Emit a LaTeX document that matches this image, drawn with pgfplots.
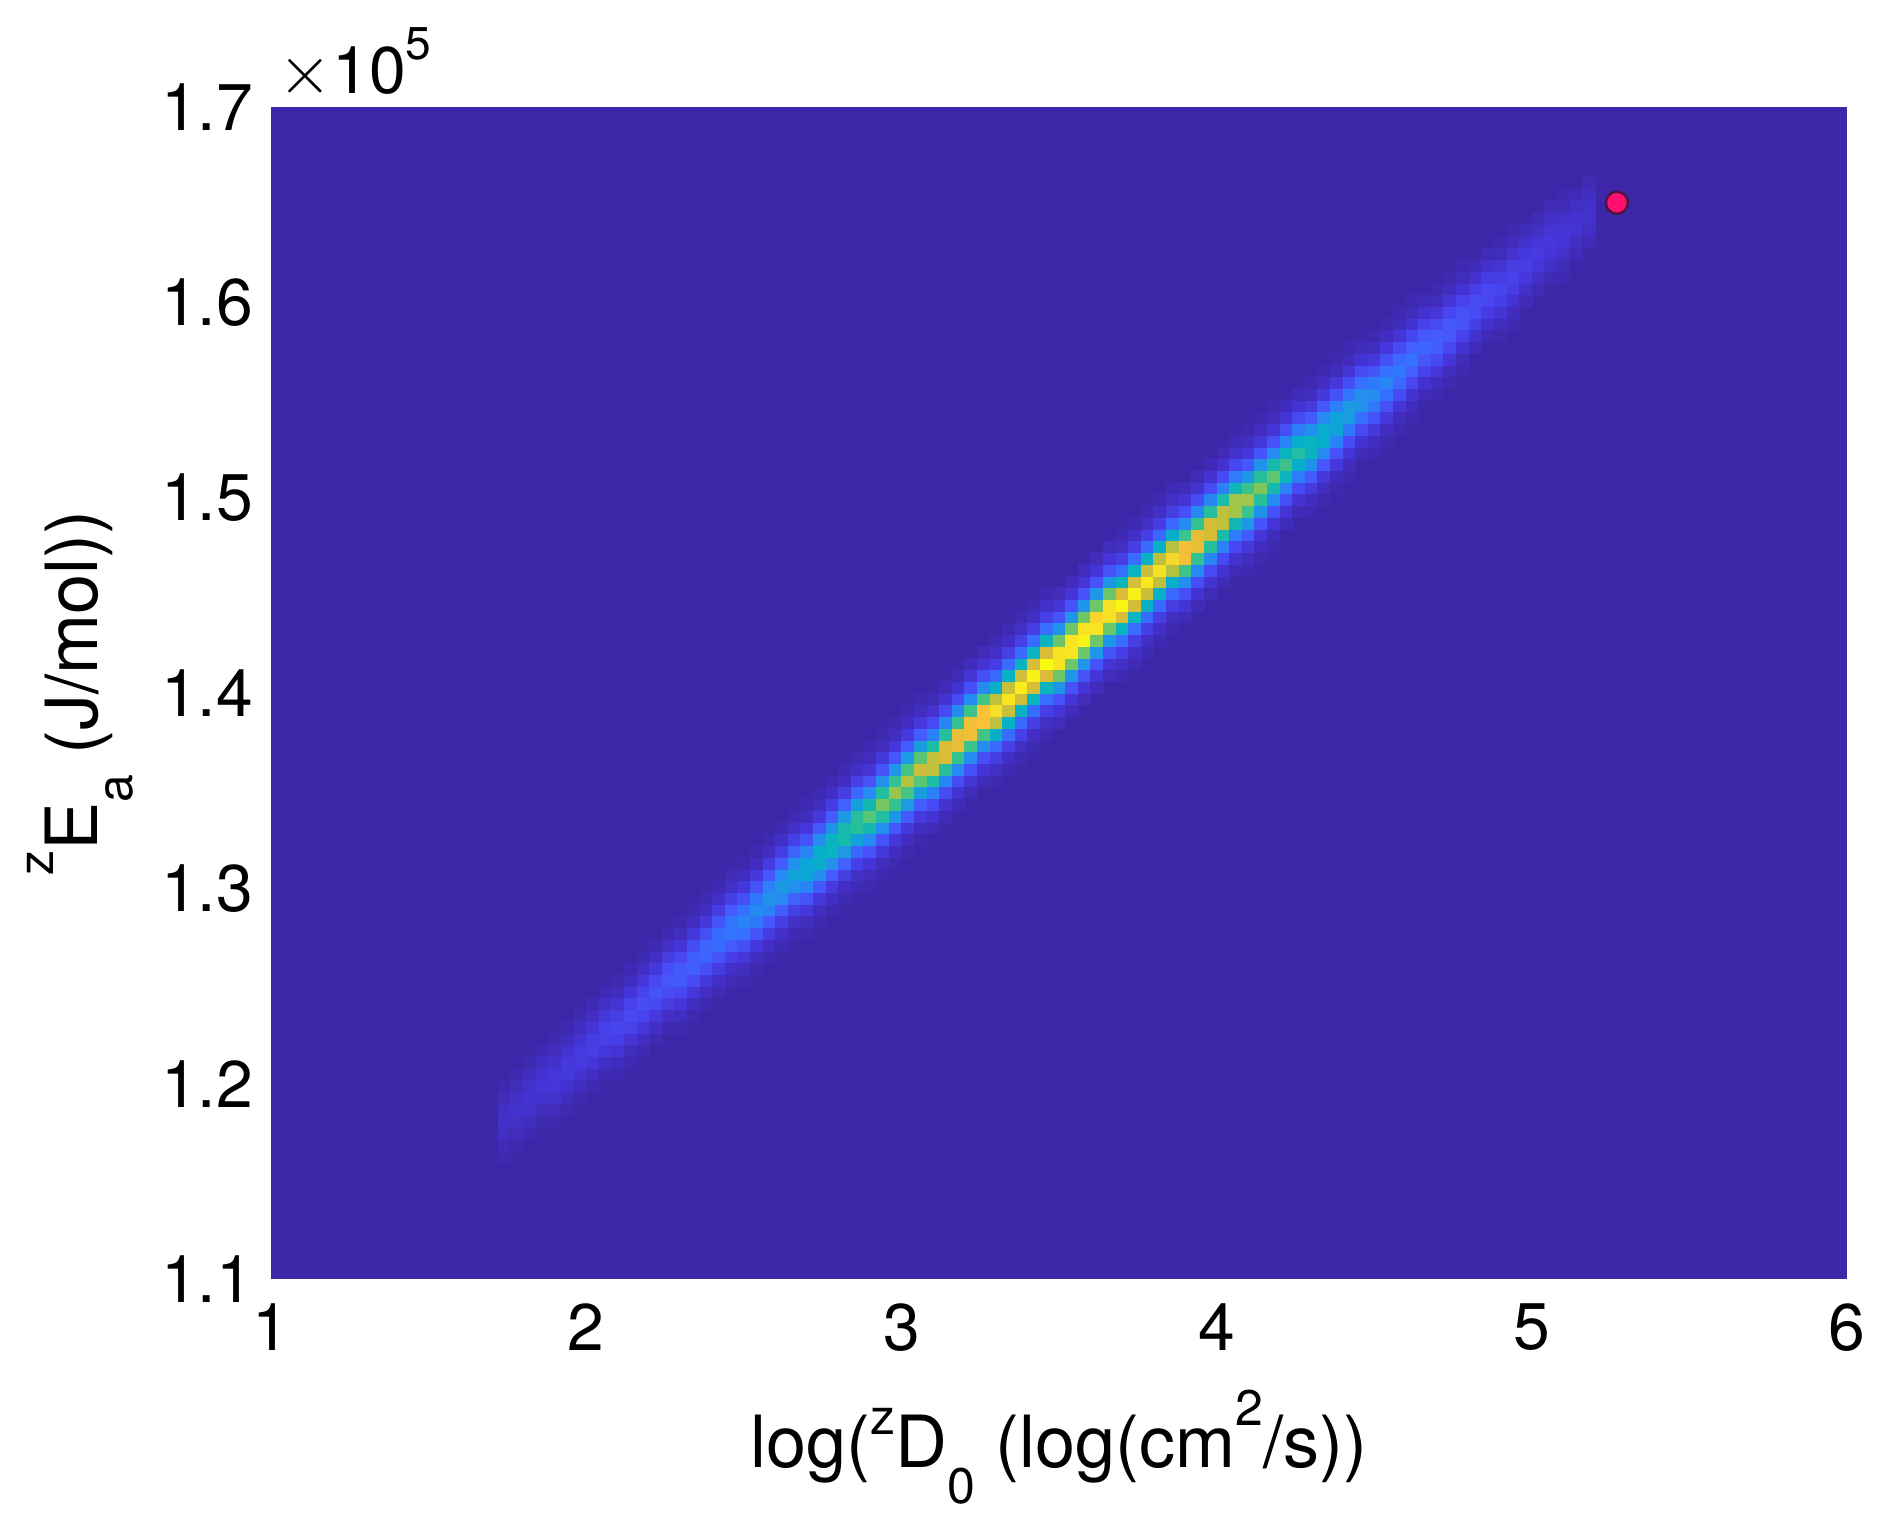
\documentclass[border=0pt]{standalone}
\usepackage{pgfplots}
\pgfplotsset{compat=1.18}
\usepackage{pgfplotstable}
\usepackage{fontspec}
\setmainfont{TeX Gyre Heros}
\definecolor{bgpar}{rgb}{0.2422,0.1504,0.6603}
\definecolor{dotfill}{RGB}{255,16,112}
\definecolor{dotedge}{RGB}{80,20,60}
\pgfplotstableread{
x y v
1.74 1.163 0.011
1.74 1.169 0.023
1.74 1.175 0.037
1.74 1.181 0.045
1.74 1.187 0.037
1.74 1.193 0.023
1.74 1.199 0.011
1.78 1.169 0.012
1.78 1.175 0.025
1.78 1.181 0.041
1.78 1.187 0.050
1.78 1.193 0.041
1.78 1.199 0.025
1.78 1.205 0.012
1.82 1.175 0.014
1.82 1.181 0.029
1.82 1.187 0.047
1.82 1.193 0.057
1.82 1.199 0.047
1.82 1.205 0.029
1.82 1.211 0.014
1.86 1.181 0.015
1.86 1.187 0.032
1.86 1.193 0.052
1.86 1.199 0.064
1.86 1.205 0.052
1.86 1.211 0.032
1.86 1.217 0.015
1.90 1.181 0.011
1.90 1.187 0.026
1.90 1.193 0.048
1.90 1.199 0.067
1.90 1.205 0.067
1.90 1.211 0.048
1.90 1.217 0.026
1.90 1.223 0.011
1.94 1.187 0.012
1.94 1.193 0.028
1.94 1.199 0.052
1.94 1.205 0.074
1.94 1.211 0.074
1.94 1.217 0.052
1.94 1.223 0.028
1.94 1.229 0.012
1.98 1.193 0.014
1.98 1.199 0.031
1.98 1.205 0.057
1.98 1.211 0.081
1.98 1.217 0.081
1.98 1.223 0.057
1.98 1.229 0.031
1.98 1.235 0.014
2.02 1.199 0.015
2.02 1.205 0.035
2.02 1.211 0.064
2.02 1.217 0.091
2.02 1.223 0.091
2.02 1.229 0.064
2.02 1.235 0.035
2.02 1.241 0.015
2.06 1.205 0.017
2.06 1.211 0.039
2.06 1.217 0.072
2.06 1.223 0.102
2.06 1.229 0.102
2.06 1.235 0.072
2.06 1.241 0.039
2.06 1.247 0.017
2.10 1.205 0.012
2.10 1.211 0.028
2.10 1.217 0.059
2.10 1.223 0.097
2.10 1.229 0.118
2.10 1.235 0.097
2.10 1.241 0.059
2.10 1.247 0.028
2.10 1.253 0.012
2.14 1.211 0.013
2.14 1.217 0.031
2.14 1.223 0.065
2.14 1.229 0.106
2.14 1.235 0.129
2.14 1.241 0.106
2.14 1.247 0.065
2.14 1.253 0.031
2.14 1.259 0.013
2.18 1.217 0.014
2.18 1.223 0.034
2.18 1.229 0.070
2.18 1.235 0.115
2.18 1.241 0.140
2.18 1.247 0.115
2.18 1.253 0.070
2.18 1.259 0.034
2.18 1.265 0.014
2.22 1.223 0.016
2.22 1.229 0.037
2.22 1.235 0.078
2.22 1.241 0.127
2.22 1.247 0.155
2.22 1.253 0.127
2.22 1.259 0.078
2.22 1.265 0.037
2.22 1.271 0.016
2.26 1.229 0.017
2.26 1.235 0.041
2.26 1.241 0.086
2.26 1.247 0.140
2.26 1.253 0.171
2.26 1.259 0.140
2.26 1.265 0.086
2.26 1.271 0.041
2.26 1.277 0.017
2.30 1.229 0.012
2.30 1.235 0.030
2.30 1.241 0.067
2.30 1.247 0.125
2.30 1.253 0.178
2.30 1.259 0.178
2.30 1.265 0.125
2.30 1.271 0.067
2.30 1.277 0.030
2.30 1.283 0.012
2.34 1.235 0.013
2.34 1.241 0.032
2.34 1.247 0.073
2.34 1.253 0.136
2.34 1.259 0.193
2.34 1.265 0.193
2.34 1.271 0.136
2.34 1.277 0.073
2.34 1.283 0.032
2.34 1.289 0.013
2.38 1.241 0.014
2.38 1.247 0.035
2.38 1.253 0.079
2.38 1.259 0.147
2.38 1.265 0.209
2.38 1.271 0.209
2.38 1.277 0.147
2.38 1.283 0.079
2.38 1.289 0.035
2.38 1.295 0.014
2.42 1.247 0.016
2.42 1.253 0.039
2.42 1.259 0.088
2.42 1.265 0.164
2.42 1.271 0.233
2.42 1.277 0.233
2.42 1.283 0.164
2.42 1.289 0.088
2.42 1.295 0.039
2.42 1.301 0.016
2.46 1.253 0.018
2.46 1.259 0.043
2.46 1.265 0.098
2.46 1.271 0.182
2.46 1.277 0.257
2.46 1.283 0.257
2.46 1.289 0.182
2.46 1.295 0.098
2.46 1.301 0.043
2.46 1.307 0.018
2.50 1.253 0.012
2.50 1.259 0.030
2.50 1.265 0.071
2.50 1.271 0.149
2.50 1.277 0.244
2.50 1.283 0.297
2.50 1.289 0.244
2.50 1.295 0.149
2.50 1.301 0.071
2.50 1.307 0.030
2.50 1.313 0.012
2.54 1.259 0.013
2.54 1.265 0.032
2.54 1.271 0.078
2.54 1.277 0.162
2.54 1.283 0.265
2.54 1.289 0.323
2.54 1.295 0.265
2.54 1.301 0.162
2.54 1.307 0.078
2.54 1.313 0.032
2.54 1.319 0.013
2.58 1.265 0.014
2.58 1.271 0.035
2.58 1.277 0.084
2.58 1.283 0.175
2.58 1.289 0.287
2.58 1.295 0.350
2.58 1.301 0.287
2.58 1.307 0.175
2.58 1.313 0.084
2.58 1.319 0.035
2.58 1.325 0.014
2.62 1.271 0.015
2.62 1.277 0.038
2.62 1.283 0.092
2.62 1.289 0.191
2.62 1.295 0.313
2.62 1.301 0.382
2.62 1.307 0.313
2.62 1.313 0.191
2.62 1.319 0.092
2.62 1.325 0.038
2.62 1.331 0.015
2.66 1.277 0.017
2.66 1.283 0.042
2.66 1.289 0.100
2.66 1.295 0.208
2.66 1.301 0.340
2.66 1.307 0.415
2.66 1.313 0.340
2.66 1.319 0.208
2.66 1.325 0.100
2.66 1.331 0.042
2.66 1.337 0.017
2.70 1.277 0.011
2.70 1.283 0.029
2.70 1.289 0.072
2.70 1.295 0.162
2.70 1.301 0.302
2.70 1.307 0.428
2.70 1.313 0.428
2.70 1.319 0.302
2.70 1.325 0.162
2.70 1.331 0.072
2.70 1.337 0.029
2.70 1.343 0.011
2.74 1.283 0.012
2.74 1.289 0.032
2.74 1.295 0.078
2.74 1.301 0.175
2.74 1.307 0.325
2.74 1.313 0.461
2.74 1.319 0.461
2.74 1.325 0.325
2.74 1.331 0.175
2.74 1.337 0.078
2.74 1.343 0.032
2.74 1.349 0.012
2.78 1.289 0.013
2.78 1.295 0.034
2.78 1.301 0.083
2.78 1.307 0.187
2.78 1.313 0.348
2.78 1.319 0.494
2.78 1.325 0.494
2.78 1.331 0.348
2.78 1.337 0.187
2.78 1.343 0.083
2.78 1.349 0.034
2.78 1.355 0.013
2.82 1.295 0.014
2.82 1.301 0.036
2.82 1.307 0.090
2.82 1.313 0.202
2.82 1.319 0.375
2.82 1.325 0.532
2.82 1.331 0.532
2.82 1.337 0.375
2.82 1.343 0.202
2.82 1.349 0.090
2.82 1.355 0.036
2.82 1.361 0.014
2.86 1.301 0.015
2.86 1.307 0.039
2.86 1.313 0.096
2.86 1.319 0.216
2.86 1.325 0.402
2.86 1.331 0.570
2.86 1.337 0.570
2.86 1.343 0.402
2.86 1.349 0.216
2.86 1.355 0.096
2.86 1.361 0.039
2.86 1.367 0.015
2.90 1.301 0.010
2.90 1.307 0.026
2.90 1.313 0.064
2.90 1.319 0.154
2.90 1.325 0.320
2.90 1.331 0.525
2.90 1.337 0.640
2.90 1.343 0.525
2.90 1.349 0.320
2.90 1.355 0.154
2.90 1.361 0.064
2.90 1.367 0.026
2.90 1.373 0.010
2.94 1.307 0.010
2.94 1.313 0.027
2.94 1.319 0.068
2.94 1.325 0.163
2.94 1.331 0.340
2.94 1.337 0.558
2.94 1.343 0.680
2.94 1.349 0.558
2.94 1.355 0.340
2.94 1.361 0.163
2.94 1.367 0.068
2.94 1.373 0.027
2.94 1.379 0.010
2.98 1.313 0.011
2.98 1.319 0.029
2.98 1.325 0.072
2.98 1.331 0.173
2.98 1.337 0.360
2.98 1.343 0.590
2.98 1.349 0.720
2.98 1.355 0.590
2.98 1.361 0.360
2.98 1.367 0.173
2.98 1.373 0.072
2.98 1.379 0.029
2.98 1.385 0.011
3.02 1.319 0.011
3.02 1.325 0.030
3.02 1.331 0.075
3.02 1.337 0.180
3.02 1.343 0.376
3.02 1.349 0.617
3.02 1.355 0.752
3.02 1.361 0.617
3.02 1.367 0.376
3.02 1.373 0.180
3.02 1.379 0.075
3.02 1.385 0.030
3.02 1.391 0.011
3.06 1.325 0.012
3.06 1.331 0.031
3.06 1.337 0.079
3.06 1.343 0.189
3.06 1.349 0.393
3.06 1.355 0.645
3.06 1.361 0.786
3.06 1.367 0.645
3.06 1.373 0.393
3.06 1.379 0.189
3.06 1.385 0.079
3.06 1.391 0.031
3.06 1.397 0.012
3.10 1.331 0.020
3.10 1.337 0.053
3.10 1.343 0.131
3.10 1.349 0.294
3.10 1.355 0.548
3.10 1.361 0.777
3.10 1.367 0.777
3.10 1.373 0.548
3.10 1.379 0.294
3.10 1.385 0.131
3.10 1.391 0.053
3.10 1.397 0.020
3.14 1.337 0.021
3.14 1.343 0.055
3.14 1.349 0.136
3.14 1.355 0.306
3.14 1.361 0.570
3.14 1.367 0.808
3.14 1.373 0.808
3.14 1.379 0.570
3.14 1.385 0.306
3.14 1.391 0.136
3.14 1.397 0.055
3.14 1.403 0.021
3.18 1.343 0.022
3.18 1.349 0.057
3.18 1.355 0.141
3.18 1.361 0.317
3.18 1.367 0.590
3.18 1.373 0.836
3.18 1.379 0.836
3.18 1.385 0.590
3.18 1.391 0.317
3.18 1.397 0.141
3.18 1.403 0.057
3.18 1.409 0.022
3.22 1.349 0.023
3.22 1.355 0.059
3.22 1.361 0.144
3.22 1.367 0.324
3.22 1.373 0.603
3.22 1.379 0.855
3.22 1.385 0.855
3.22 1.391 0.603
3.22 1.397 0.324
3.22 1.403 0.144
3.22 1.409 0.059
3.22 1.415 0.023
3.26 1.355 0.023
3.26 1.361 0.060
3.26 1.367 0.147
3.26 1.373 0.330
3.26 1.379 0.615
3.26 1.385 0.872
3.26 1.391 0.872
3.26 1.397 0.615
3.26 1.403 0.330
3.26 1.409 0.147
3.26 1.415 0.060
3.26 1.421 0.023
3.30 1.355 0.014
3.30 1.361 0.038
3.30 1.367 0.094
3.30 1.373 0.225
3.30 1.379 0.469
3.30 1.385 0.769
3.30 1.391 0.938
3.30 1.397 0.769
3.30 1.403 0.469
3.30 1.409 0.225
3.30 1.415 0.094
3.30 1.421 0.038
3.30 1.427 0.014
3.34 1.361 0.014
3.34 1.367 0.038
3.34 1.373 0.096
3.34 1.379 0.229
3.34 1.385 0.478
3.34 1.391 0.783
3.34 1.397 0.955
3.34 1.403 0.783
3.34 1.409 0.478
3.34 1.415 0.229
3.34 1.421 0.096
3.34 1.427 0.038
3.34 1.433 0.014
3.38 1.367 0.015
3.38 1.373 0.039
3.38 1.379 0.097
3.38 1.385 0.233
3.38 1.391 0.485
3.38 1.397 0.795
3.38 1.403 0.970
3.38 1.409 0.795
3.38 1.415 0.485
3.38 1.421 0.233
3.38 1.427 0.097
3.38 1.433 0.039
3.38 1.439 0.015
3.42 1.373 0.015
3.42 1.379 0.039
3.42 1.385 0.098
3.42 1.391 0.235
3.42 1.397 0.490
3.42 1.403 0.804
3.42 1.409 0.980
3.42 1.415 0.804
3.42 1.421 0.490
3.42 1.427 0.235
3.42 1.433 0.098
3.42 1.439 0.039
3.42 1.445 0.015
3.46 1.379 0.015
3.46 1.385 0.040
3.46 1.391 0.099
3.46 1.397 0.237
3.46 1.403 0.494
3.46 1.409 0.810
3.46 1.415 1.000
3.46 1.421 0.810
3.46 1.427 0.494
3.46 1.433 0.237
3.46 1.439 0.099
3.46 1.445 0.040
3.46 1.451 0.015
3.50 1.385 0.025
3.50 1.391 0.065
3.50 1.397 0.159
3.50 1.403 0.358
3.50 1.409 0.667
3.50 1.415 0.945
3.50 1.421 0.945
3.50 1.427 0.667
3.50 1.433 0.358
3.50 1.439 0.159
3.50 1.445 0.065
3.50 1.451 0.025
3.54 1.391 0.025
3.54 1.397 0.065
3.54 1.403 0.160
3.54 1.409 0.360
3.54 1.415 0.669
3.54 1.421 0.949
3.54 1.427 0.949
3.54 1.433 0.669
3.54 1.439 0.360
3.54 1.445 0.160
3.54 1.451 0.065
3.54 1.457 0.025
3.58 1.397 0.025
3.58 1.403 0.065
3.58 1.409 0.160
3.58 1.415 0.360
3.58 1.421 0.670
3.58 1.427 0.980
3.58 1.433 0.950
3.58 1.439 0.670
3.58 1.445 0.360
3.58 1.451 0.160
3.58 1.457 0.065
3.58 1.463 0.025
3.62 1.403 0.025
3.62 1.409 0.065
3.62 1.415 0.160
3.62 1.421 0.360
3.62 1.427 0.669
3.62 1.433 0.949
3.62 1.439 0.920
3.62 1.445 0.669
3.62 1.451 0.360
3.62 1.457 0.160
3.62 1.463 0.065
3.62 1.469 0.025
3.66 1.409 0.025
3.66 1.415 0.065
3.66 1.421 0.159
3.66 1.427 0.358
3.66 1.433 0.666
3.66 1.439 0.944
3.66 1.445 0.944
3.66 1.451 0.666
3.66 1.457 0.358
3.66 1.463 0.159
3.66 1.469 0.065
3.66 1.475 0.025
3.70 1.409 0.015
3.70 1.415 0.039
3.70 1.421 0.099
3.70 1.427 0.236
3.70 1.433 0.493
3.70 1.439 0.808
3.70 1.445 0.990
3.70 1.451 0.808
3.70 1.457 0.493
3.70 1.463 0.236
3.70 1.469 0.099
3.70 1.475 0.039
3.70 1.481 0.015
3.74 1.415 0.015
3.74 1.421 0.039
3.74 1.427 0.098
3.74 1.433 0.234
3.74 1.439 0.488
3.74 1.445 0.800
3.74 1.451 0.975
3.74 1.457 0.800
3.74 1.463 0.488
3.74 1.469 0.234
3.74 1.475 0.098
3.74 1.481 0.039
3.74 1.487 0.015
3.78 1.421 0.014
3.78 1.427 0.038
3.78 1.433 0.096
3.78 1.439 0.231
3.78 1.445 0.481
3.78 1.451 0.788
3.78 1.457 0.961
3.78 1.463 0.788
3.78 1.469 0.481
3.78 1.475 0.231
3.78 1.481 0.096
3.78 1.487 0.038
3.78 1.493 0.014
3.82 1.427 0.014
3.82 1.433 0.038
3.82 1.439 0.094
3.82 1.445 0.226
3.82 1.451 0.472
3.82 1.457 0.773
3.82 1.463 0.943
3.82 1.469 0.773
3.82 1.475 0.472
3.82 1.481 0.226
3.82 1.487 0.094
3.82 1.493 0.038
3.82 1.499 0.014
3.86 1.433 0.014
3.86 1.439 0.037
3.86 1.445 0.092
3.86 1.451 0.221
3.86 1.457 0.461
3.86 1.463 0.756
3.86 1.469 0.922
3.86 1.475 0.756
3.86 1.481 0.461
3.86 1.487 0.221
3.86 1.493 0.092
3.86 1.499 0.037
3.86 1.505 0.014
3.90 1.439 0.023
3.90 1.445 0.059
3.90 1.451 0.144
3.90 1.457 0.324
3.90 1.463 0.604
3.90 1.469 0.856
3.90 1.475 0.856
3.90 1.481 0.604
3.90 1.487 0.324
3.90 1.493 0.144
3.90 1.499 0.059
3.90 1.505 0.023
3.94 1.445 0.022
3.94 1.451 0.057
3.94 1.457 0.140
3.94 1.463 0.316
3.94 1.469 0.588
3.94 1.475 0.834
3.94 1.481 0.834
3.94 1.487 0.588
3.94 1.493 0.316
3.94 1.499 0.140
3.94 1.505 0.057
3.94 1.511 0.022
3.98 1.451 0.021
3.98 1.457 0.055
3.98 1.463 0.135
3.98 1.469 0.304
3.98 1.475 0.566
3.98 1.481 0.803
3.98 1.487 0.803
3.98 1.493 0.566
3.98 1.499 0.304
3.98 1.505 0.135
3.98 1.511 0.055
3.98 1.517 0.021
4.02 1.457 0.020
4.02 1.463 0.053
4.02 1.469 0.129
4.02 1.475 0.291
4.02 1.481 0.541
4.02 1.487 0.768
4.02 1.493 0.768
4.02 1.499 0.541
4.02 1.505 0.291
4.02 1.511 0.129
4.02 1.517 0.053
4.02 1.523 0.020
4.06 1.463 0.019
4.06 1.469 0.050
4.06 1.475 0.123
4.06 1.481 0.278
4.06 1.487 0.517
4.06 1.493 0.732
4.06 1.499 0.732
4.06 1.505 0.517
4.06 1.511 0.278
4.06 1.517 0.123
4.06 1.523 0.050
4.06 1.529 0.019
4.10 1.463 0.011
4.10 1.469 0.029
4.10 1.475 0.073
4.10 1.481 0.176
4.10 1.487 0.367
4.10 1.493 0.602
4.10 1.499 0.734
4.10 1.505 0.602
4.10 1.511 0.367
4.10 1.517 0.176
4.10 1.523 0.073
4.10 1.529 0.029
4.10 1.535 0.011
4.14 1.469 0.010
4.14 1.475 0.028
4.14 1.481 0.069
4.14 1.487 0.166
4.14 1.493 0.347
4.14 1.499 0.568
4.14 1.505 0.693
4.14 1.511 0.568
4.14 1.517 0.347
4.14 1.523 0.166
4.14 1.529 0.069
4.14 1.535 0.028
4.14 1.541 0.010
4.18 1.475 0.010
4.18 1.481 0.026
4.18 1.487 0.065
4.18 1.493 0.156
4.18 1.499 0.324
4.18 1.505 0.531
4.18 1.511 0.648
4.18 1.517 0.531
4.18 1.523 0.324
4.18 1.529 0.156
4.18 1.535 0.065
4.18 1.541 0.026
4.18 1.547 0.010
4.22 1.487 0.024
4.22 1.493 0.060
4.22 1.499 0.145
4.22 1.505 0.302
4.22 1.511 0.494
4.22 1.517 0.603
4.22 1.523 0.494
4.22 1.529 0.302
4.22 1.535 0.145
4.22 1.541 0.060
4.22 1.547 0.024
4.26 1.493 0.022
4.26 1.499 0.056
4.26 1.505 0.134
4.26 1.511 0.279
4.26 1.517 0.458
4.26 1.523 0.558
4.26 1.529 0.458
4.26 1.535 0.279
4.26 1.541 0.134
4.26 1.547 0.056
4.26 1.553 0.022
4.30 1.493 0.013
4.30 1.499 0.033
4.30 1.505 0.082
4.30 1.511 0.185
4.30 1.517 0.345
4.30 1.523 0.489
4.30 1.529 0.489
4.30 1.535 0.345
4.30 1.541 0.185
4.30 1.547 0.082
4.30 1.553 0.033
4.30 1.559 0.013
4.34 1.499 0.012
4.34 1.505 0.031
4.34 1.511 0.076
4.34 1.517 0.171
4.34 1.523 0.319
4.34 1.529 0.452
4.34 1.535 0.452
4.34 1.541 0.319
4.34 1.547 0.171
4.34 1.553 0.076
4.34 1.559 0.031
4.34 1.565 0.012
4.38 1.505 0.011
4.38 1.511 0.028
4.38 1.517 0.070
4.38 1.523 0.157
4.38 1.529 0.292
4.38 1.535 0.414
4.38 1.541 0.414
4.38 1.547 0.292
4.38 1.553 0.157
4.38 1.559 0.070
4.38 1.565 0.028
4.38 1.571 0.011
4.42 1.511 0.010
4.42 1.517 0.026
4.42 1.523 0.064
4.42 1.529 0.143
4.42 1.535 0.266
4.42 1.541 0.377
4.42 1.547 0.377
4.42 1.553 0.266
4.42 1.559 0.143
4.42 1.565 0.064
4.42 1.571 0.026
4.42 1.577 0.010
4.46 1.523 0.023
4.46 1.529 0.058
4.46 1.535 0.130
4.46 1.541 0.242
4.46 1.547 0.343
4.46 1.553 0.343
4.46 1.559 0.242
4.46 1.565 0.130
4.46 1.571 0.058
4.46 1.577 0.023
4.50 1.523 0.013
4.50 1.529 0.033
4.50 1.535 0.079
4.50 1.541 0.165
4.50 1.547 0.271
4.50 1.553 0.330
4.50 1.559 0.271
4.50 1.565 0.165
4.50 1.571 0.079
4.50 1.577 0.033
4.50 1.583 0.013
4.54 1.529 0.012
4.54 1.535 0.030
4.54 1.541 0.072
4.54 1.547 0.150
4.54 1.553 0.246
4.54 1.559 0.300
4.54 1.565 0.246
4.54 1.571 0.150
4.54 1.577 0.072
4.54 1.583 0.030
4.54 1.589 0.012
4.58 1.535 0.011
4.58 1.541 0.027
4.58 1.547 0.065
4.58 1.553 0.136
4.58 1.559 0.222
4.58 1.565 0.271
4.58 1.571 0.222
4.58 1.577 0.136
4.58 1.583 0.065
4.58 1.589 0.027
4.58 1.595 0.011
4.62 1.541 0.010
4.62 1.547 0.024
4.62 1.553 0.058
4.62 1.559 0.121
4.62 1.565 0.198
4.62 1.571 0.242
4.62 1.577 0.198
4.62 1.583 0.121
4.62 1.589 0.058
4.62 1.595 0.024
4.62 1.601 0.010
4.66 1.553 0.022
4.66 1.559 0.052
4.66 1.565 0.108
4.66 1.571 0.177
4.66 1.577 0.216
4.66 1.583 0.177
4.66 1.589 0.108
4.66 1.595 0.052
4.66 1.601 0.022
4.70 1.553 0.013
4.70 1.559 0.032
4.70 1.565 0.071
4.70 1.571 0.132
4.70 1.577 0.187
4.70 1.583 0.187
4.70 1.589 0.132
4.70 1.595 0.071
4.70 1.601 0.032
4.70 1.607 0.013
4.74 1.559 0.012
4.74 1.565 0.029
4.74 1.571 0.064
4.74 1.577 0.120
4.74 1.583 0.170
4.74 1.589 0.170
4.74 1.595 0.120
4.74 1.601 0.064
4.74 1.607 0.029
4.74 1.613 0.012
4.78 1.565 0.011
4.78 1.571 0.026
4.78 1.577 0.058
4.78 1.583 0.109
4.78 1.589 0.154
4.78 1.595 0.154
4.78 1.601 0.109
4.78 1.607 0.058
4.78 1.613 0.026
4.78 1.619 0.011
4.82 1.577 0.023
4.82 1.583 0.052
4.82 1.589 0.096
4.82 1.595 0.137
4.82 1.601 0.137
4.82 1.607 0.096
4.82 1.613 0.052
4.82 1.619 0.023
4.86 1.583 0.021
4.86 1.589 0.047
4.86 1.595 0.088
4.86 1.601 0.124
4.86 1.607 0.124
4.86 1.613 0.088
4.86 1.619 0.047
4.86 1.625 0.021
4.90 1.583 0.012
4.90 1.589 0.028
4.90 1.595 0.059
4.90 1.601 0.097
4.90 1.607 0.118
4.90 1.613 0.097
4.90 1.619 0.059
4.90 1.625 0.028
4.90 1.631 0.012
4.94 1.589 0.011
4.94 1.595 0.026
4.94 1.601 0.054
4.94 1.607 0.088
4.94 1.613 0.107
4.94 1.619 0.088
4.94 1.625 0.054
4.94 1.631 0.026
4.94 1.637 0.011
4.98 1.601 0.023
4.98 1.607 0.047
4.98 1.613 0.077
4.98 1.619 0.094
4.98 1.625 0.077
4.98 1.631 0.047
4.98 1.637 0.023
5.02 1.607 0.020
5.02 1.613 0.042
5.02 1.619 0.068
5.02 1.625 0.083
5.02 1.631 0.068
5.02 1.637 0.042
5.02 1.643 0.020
5.06 1.613 0.018
5.06 1.619 0.038
5.06 1.625 0.062
5.06 1.631 0.075
5.06 1.637 0.062
5.06 1.643 0.038
5.06 1.649 0.018
5.10 1.613 0.011
5.10 1.619 0.024
5.10 1.625 0.045
5.10 1.631 0.064
5.10 1.637 0.064
5.10 1.643 0.045
5.10 1.649 0.024
5.10 1.655 0.011
5.14 1.625 0.021
5.14 1.631 0.040
5.14 1.637 0.056
5.14 1.643 0.056
5.14 1.649 0.040
5.14 1.655 0.021
5.18 1.631 0.018
5.18 1.637 0.034
5.18 1.643 0.048
5.18 1.649 0.048
5.18 1.655 0.034
5.18 1.661 0.018
}\cells
\begin{document}
\begin{tikzpicture}
\useasboundingbox (-67.75pt,-63pt) rectangle (405.25pt,319.75pt);
\begin{axis}[
  name=ax, at={(0,0)}, anchor=south west,
  scale only axis, width=394pt, height=293pt,
  xmin=1, xmax=6, ymin=1.1, ymax=1.7,
  axis line style={draw=none},
  major tick length=0pt,
  xtick={1,2,3,4,5,6},
  ytick={1.1,1.2,1.3,1.4,1.5,1.6,1.7},
  scaled y ticks=false,
  /pgf/number format/assume math mode=true,
  ticklabel style={font=\fontsize{16.5}{18}\selectfont},
  yticklabel style={/pgf/number format/.cd, fixed, fixed zerofill, precision=1, /tikz/.cd, xshift=-1pt},
  xticklabel style={yshift=-2.75pt},
  axis background/.style={fill=bgpar},
  colormap={parula}{rgb=(0.2422,0.1504,0.6603) rgb=(0.2691,0.2058,0.8418) rgb=(0.2807,0.2795,0.9483) rgb=(0.2665,0.3608,0.9917) rgb=(0.2014,0.4493,0.9951) rgb=(0.1524,0.5355,0.9559) rgb=(0.1120,0.6027,0.8891) rgb=(0.0326,0.6616,0.8261) rgb=(0.0343,0.7095,0.7356) rgb=(0.1367,0.7458,0.6224) rgb=(0.2829,0.7743,0.5034) rgb=(0.4910,0.7797,0.3672) rgb=(0.6899,0.7628,0.2553) rgb=(0.8651,0.7369,0.2111) rgb=(0.9892,0.7563,0.2273) rgb=(0.9686,0.8719,0.1530) rgb=(0.9763,0.9831,0.0538)},
  point meta min=0, point meta max=1,
]
\addplot[scatter, only marks, mark=square*, mark size=1.55pt,
  point meta=explicit,
  scatter/use mapped color={draw=mapped color, fill=mapped color},
  mark options={yscale=0.93, line width=0.1pt}]
  table[x index=0, y index=1, meta index=2] {\cells};
\addplot[only marks, mark=*, mark size=2.75pt,
  mark options={fill=dotfill, draw=dotedge, line width=0.6pt}]
  coordinates {(5.27,1.651)};
\end{axis}
\node[anchor=base west, inner sep=0pt, font=\fontsize{16.5}{18}\selectfont]
  at ([xshift=1.75pt,yshift=3.5pt]ax.north west)
  {$\times$10\raisebox{8.5pt}{\fontsize{11.5}{12}\selectfont 5}};
\node[anchor=base, inner sep=0pt, font=\fontsize{18}{20}\selectfont]
  at ([yshift=-47pt]ax.south)
  {log(\raisebox{8.25pt}{\fontsize{12.5}{13}\selectfont z}D\raisebox{-9pt}{\fontsize{12.5}{13}\selectfont 0} (log(cm\raisebox{10.5pt}{\fontsize{12.5}{13}\selectfont 2}/s))};
\node[rotate=90, anchor=base, inner sep=0pt, font=\fontsize{18}{20}\selectfont]
  at ([xshift=-43.25pt]ax.west)
  {\raisebox{11pt}{\fontsize{12.5}{13}\selectfont z}E\raisebox{-8.75pt}{\fontsize{12.5}{13}\selectfont a} (J/mol))};
\end{tikzpicture}
\end{document}
